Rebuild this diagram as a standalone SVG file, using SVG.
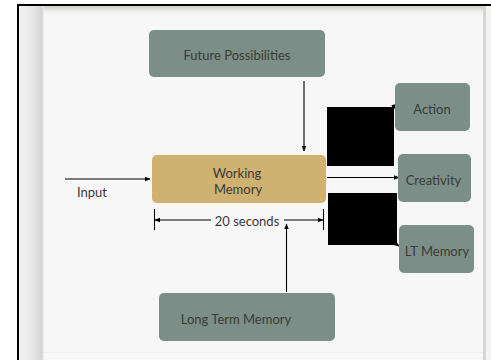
<svg xmlns="http://www.w3.org/2000/svg" width="491" height="360" viewBox="0 0 491 360">
<defs>
<style>
.box{fill:#7b8e87;}
.wm{fill:#cfb172;}
.lbl{font-family:"Gill Sans","Lato","Liberation Sans",sans-serif;font-size:13px;fill:#3b3b37;text-anchor:middle;}
.ln{stroke:#000;stroke-width:1.1;fill:none;}
.blk{fill:#000;}
</style>
<marker id="ah" viewBox="0 0 10 10" refX="9" refY="5" markerWidth="6" markerHeight="6" orient="auto-start-reverse" markerUnits="userSpaceOnUse">
<path d="M0,1 L10,5 L0,9 z" fill="#000"/>
</marker>
<linearGradient id="lstrip" x1="0" x2="1" y1="0" y2="0">
<stop offset="0" stop-color="#f2f2f2"/>
<stop offset="0.6" stop-color="#e6e6e6"/>
<stop offset="0.9" stop-color="#d3d3d3"/>
<stop offset="1" stop-color="#efefef"/>
</linearGradient>
<linearGradient id="tstrip" x1="0" x2="0" y1="0" y2="1">
<stop offset="0" stop-color="#c9cabd"/>
<stop offset="0.5" stop-color="#e9e9e4"/>
<stop offset="1" stop-color="#f6f6f6"/>
</linearGradient>
</defs>
<g id="frame">
<rect x="0" y="0" width="491" height="360" fill="#ffffff"/>
<rect x="19" y="6" width="472" height="354" fill="#f7f7f7"/>
<rect x="19" y="6" width="472" height="8" fill="url(#tstrip)"/>
<rect x="19" y="6" width="25" height="354" fill="url(#lstrip)"/>
<rect x="483" y="6" width="3" height="354" fill="#d6d6d0"/>
<rect x="486" y="6" width="5" height="354" fill="#f4f4f4"/>
<rect x="44" y="352" width="439" height="1" fill="#f0f0ea"/>
<rect x="17" y="4" width="474" height="2" fill="#000"/>
<rect x="17" y="4" width="2" height="356" fill="#000"/>
</g>
<g id="connectors">
<line class="ln" x1="65" y1="179" x2="150" y2="179" marker-end="url(#ah)"/>
<line class="ln" x1="304" y1="81" x2="304" y2="151" marker-end="url(#ah)"/>
<line class="ln" x1="286.5" y1="292" x2="286.5" y2="224" marker-end="url(#ah)"/>
<line class="ln" x1="327" y1="177.5" x2="399" y2="177.5" marker-end="url(#ah)"/>
<line class="ln" x1="155" y1="220" x2="211" y2="220" marker-start="url(#ah)"/>
<line class="ln" x1="284" y1="220" x2="323" y2="220" marker-end="url(#ah)"/>
<line class="ln" x1="154.5" y1="209" x2="154.5" y2="230"/>
<line class="ln" x1="323.5" y1="209" x2="323.5" y2="230"/>
<rect class="blk" x="327" y="107" width="67" height="59"/>
<line class="ln" x1="393" y1="107" x2="397" y2="104" marker-end="url(#ah)"/>
<rect class="blk" x="328" y="193" width="69" height="52"/>
<line class="ln" x1="396" y1="244" x2="399" y2="246" marker-end="url(#ah)"/>
</g>
<g id="input-label">
<text class="lbl" x="92" y="197">Input</text>
</g>
<g id="duration-label">
<text class="lbl" x="247" y="226">20 seconds</text>
</g>
<g id="future">
<rect class="box" x="149" y="30" width="176" height="47" rx="5"/>
<text class="lbl" x="237" y="60">Future Possibilities</text>
</g>
<g id="working">
<rect class="wm" x="152" y="155" width="174" height="48" rx="5"/>
<text class="lbl" x="237" y="178">Working</text>
<text class="lbl" x="238" y="194">Memory</text>
</g>
<g id="longterm">
<rect class="box" x="159" y="293" width="176" height="48" rx="5"/>
<text class="lbl" x="236" y="324">Long Term Memory</text>
</g>
<g id="action">
<rect class="box" x="395" y="83" width="75" height="48" rx="5"/>
<text class="lbl" x="432" y="114">Action</text>
</g>
<g id="creativity">
<rect class="box" x="398" y="154" width="73" height="48" rx="5"/>
<text class="lbl" x="433.5" y="185">Creativity</text>
</g>
<g id="ltmemory">
<rect class="box" x="399" y="225" width="75" height="48" rx="5"/>
<text class="lbl" x="437" y="256">LT Memory</text>
</g>
</svg>
